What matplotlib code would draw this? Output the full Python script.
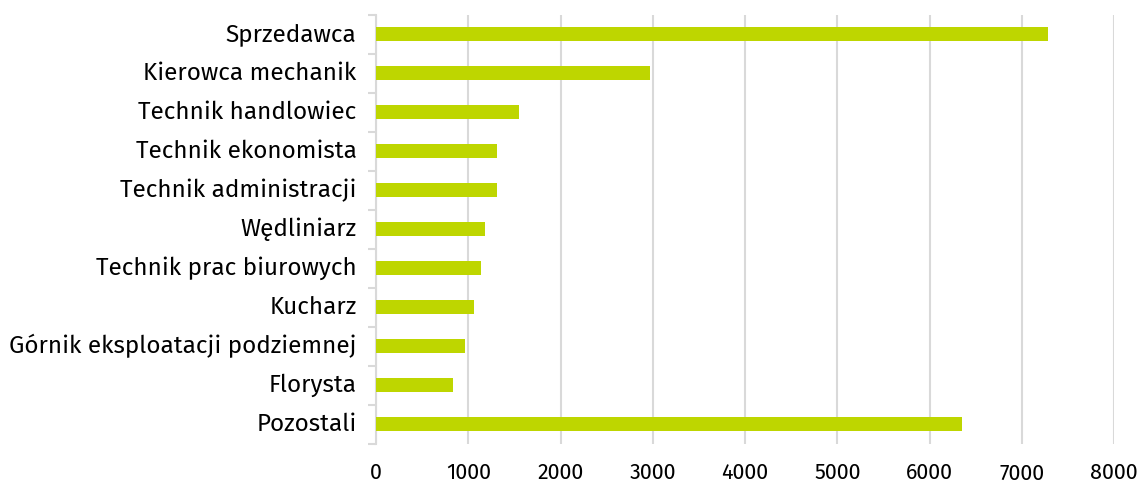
import matplotlib.pyplot as plt
import matplotlib.transforms as mtransforms
import numpy as np

categories = ['Sprzedawca', 'Kierowca mechanik', 'Technik handlowiec', 'Technik ekonomista',
              'Technik administracji', 'Wędliniarz', 'Technik prac biurowych', 'Kucharz',
              'Górnik eksploatacji podziemnej', 'Florysta', 'Pozostali']
values = [7280, 2970, 1550, 1310, 1310, 1180, 1140, 1060, 960, 840, 6350]
xticks = [0, 1000, 2000, 3000, 4000, 5000, 6000, 7000, 8000]

plt.rcParams['font.family'] = ['Fira Sans', 'Open Sans', 'DejaVu Sans']

fig = plt.figure(figsize=(11.41, 4.85), dpi=100)
ax = fig.add_axes([376/1141, 1 - 444.5/485, (1114 - 376)/1141, 429/485])

y = np.arange(len(categories))
ax.barh(y, values, height=0.36, color='#bed600', zorder=3)

ax.set_xlim(0, 8000)
ax.set_ylim(len(categories) - 0.5, -0.5)
ax.set_xticks(xticks)
ax.set_xticklabels([str(t) for t in xticks], fontsize=15.5)
ax.tick_params(axis='x', length=0, pad=13)
ax.xaxis.grid(True, color='#d9d9d9', linewidth=1.5, zorder=0)

ax.set_yticks(y)
ax.set_yticklabels(categories, fontsize=17.5)
ax.set_yticks(np.arange(-0.5, len(categories), 1), minor=True)
ax.tick_params(axis='y', which='major', length=0, pad=14)
ax.tick_params(axis='y', which='minor', length=6, color='#d9d9d9', width=1.5)

# nudge category labels up a little
shift = mtransforms.ScaledTranslation(0, 3/100, fig.dpi_scale_trans)
for lbl in ax.get_yticklabels():
    lbl.set_transform(lbl.get_transform() + shift)

for s in ['top', 'right', 'bottom']:
    ax.spines[s].set_visible(False)
ax.spines['left'].set_color('#d9d9d9')
ax.spines['left'].set_linewidth(1.5)

fig.savefig('out.png', dpi=100)
